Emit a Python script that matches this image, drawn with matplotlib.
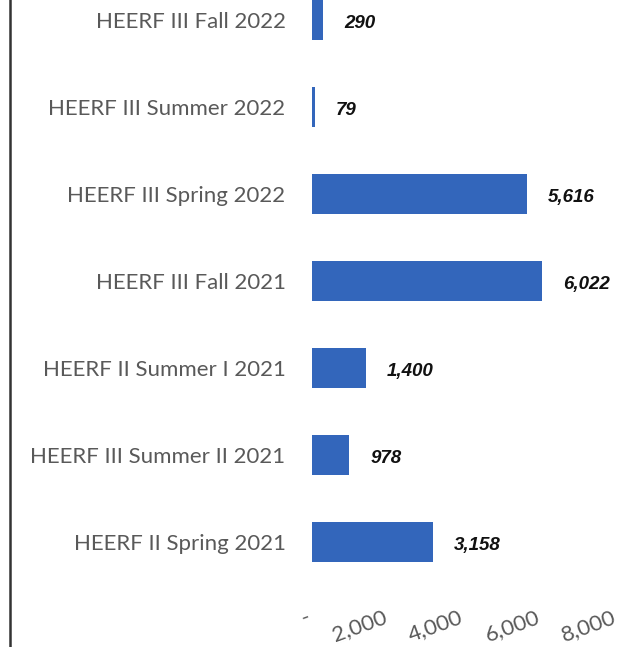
import matplotlib
matplotlib.use('Agg')
from matplotlib import pyplot as plt
from matplotlib.lines import Line2D
import matplotlib.transforms as mtransforms

categories = ['HEERF III Fall 2022', 'HEERF III Summer 2022', 'HEERF III Spring 2022',
              'HEERF III Fall 2021', 'HEERF II Summer I 2021', 'HEERF III Summer II 2021',
              'HEERF II Spring 2021']
values = [290, 79, 5616, 6022, 1400, 978, 3158]
xticks = [0, 2000, 4000, 6000, 8000]
xtick_labels = ['-', '2,000', '4,000', '6,000', '8,000']

fig = plt.figure(figsize=(6.43, 6.47), dpi=100)
ax = fig.add_axes([312 / 643, 47 / 647, 306 / 643, 600 / 647])

pos = list(range(len(categories)))
ax.barh(pos, values, height=0.46, color='#3366bb')

for p, v in zip(pos, values):
	ax.annotate(f'{v:,}', (v, p), xytext=(15, -1), textcoords='offset points',
		va='center_baseline', ha='left', fontsize=13.5, fontweight='bold', fontstyle='italic',
		family='Liberation Sans', color='#111111')

ax.set_ylim(6.67, -0.23)
ax.set_xlim(0, 8000)
ax.set_yticks(pos)
ax.set_yticklabels(categories, family='Lato', fontsize=16, color='#595959')
ax.set_xticks(xticks)
ax.set_xticklabels(xtick_labels, family='Lato', fontsize=16, color='#595959',
	rotation=20, ha='right', rotation_mode='anchor')
ax.tick_params(axis='y', length=0, pad=19)
ax.tick_params(axis='x', length=0, pad=5)
# nudge the rotated tick labels a bit to the left, like the source
shift = mtransforms.ScaledTranslation(-6 / 100, 0, fig.dpi_scale_trans)
for lbl in ax.get_xticklabels():
	lbl.set_transform(lbl.get_transform() + shift)
for s in ax.spines.values():
	s.set_visible(False)

# left border line
fig.add_artist(Line2D([10 / 643, 10 / 643], [0, 1], color='#333333', lw=1.8,
	transform=fig.transFigure))

fig.savefig('out.png', dpi=100)
